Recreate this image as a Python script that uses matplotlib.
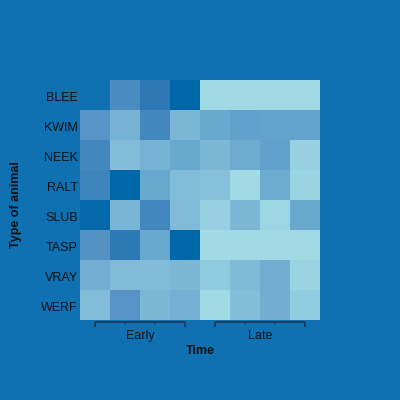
import matplotlib
matplotlib.use("Agg")
import matplotlib.pyplot as plt
import matplotlib.transforms as mtransforms
import numpy as np
from matplotlib.colors import LinearSegmentedColormap

animals = ["BLEE", "KWIM", "NEEK", "RALT", "SLUB", "TASP", "VRAY", "WERF"]
groups = ["Early", "Late"]
times_per_group = 4

blee = [0.08, 0.45, 0.30, 0.00, 1.00, 1.00, 1.00, 1.00]
kwim = [0.52, 0.75, 0.40, 0.80, 0.68, 0.62, 0.64, 0.64]
neek = [0.40, 0.85, 0.75, 0.68, 0.80, 0.70, 0.62, 0.95]
ralt = [0.38, 0.00, 0.68, 0.85, 0.87, 1.00, 0.70, 0.97]
slub = [0.02, 0.78, 0.40, 0.84, 0.95, 0.80, 0.98, 0.68]
tasp = [0.50, 0.28, 0.68, 0.00, 1.00, 1.00, 1.00, 1.00]
vray = [0.73, 0.84, 0.84, 0.80, 0.92, 0.83, 0.72, 0.97]
werf = [0.85, 0.52, 0.80, 0.74, 1.00, 0.86, 0.72, 0.93]

values = np.array([blee, kwim, neek, ralt, slub, tasp, vray, werf])

bg = "#0F70B2"
cmap = LinearSegmentedColormap.from_list(
    "blues", [(0.0, "#0067AA"), (0.08, "#0F70B2"), (0.3, "#2F7AB6"),
              (0.4, "#4288BE"), (0.5, "#5592C4"), (0.65, "#65A5CD"),
              (0.75, "#76B2D4"), (0.85, "#82BCD8"), (0.93, "#92CCE0"),
              (1.0, "#A0DAE5")])

fig = plt.figure(figsize=(4, 4), dpi=100, facecolor=bg)
ax = fig.add_axes([0.2, 0.2, 0.6, 0.6])
ax.set_facecolor(bg)
ax.imshow(values, cmap=cmap, vmin=0, vmax=1, aspect="auto",
          interpolation="nearest")
ax.set_xlim(-0.5, 7.5)
ax.set_ylim(7.5, -0.5)
for s in ax.spines.values():
    s.set_visible(False)

font = "Liberation Sans"
ax.set_yticks(range(len(animals)))
ax.set_yticklabels(animals, fontsize=9, family=font, color="#111111",
                   va="center")
ax.tick_params(axis="y", length=0, pad=1.5)
offset = mtransforms.ScaledTranslation(0, -3 / 100, fig.dpi_scale_trans)
for lbl in ax.get_yticklabels():
    lbl.set_transform(lbl.get_transform() + offset)
ax.set_xticks([])

trans = ax.get_xaxis_transform()
lc = "#1B3A58"
for g, name in enumerate(groups):
    x0 = g * times_per_group
    x1 = x0 + times_per_group - 1
    ax.plot([x0, x1], [-0.01, -0.01], color=lc, lw=1.3, transform=trans,
            clip_on=False, solid_capstyle="butt")
    for k in range(times_per_group):
        xk = x0 + k
        end = -0.03 if k in (0, times_per_group - 1) else -0.018
        ax.plot([xk, xk], [-0.01, end], color=lc, lw=1.3, transform=trans,
                clip_on=False, solid_capstyle="butt")
    ax.text((x0 + x1) / 2, -0.068, name, transform=trans, ha="center",
            va="center", fontsize=9, family=font, color="#111111")

fig.text(0.5, 0.122, "Time", ha="center", va="center", fontsize=9,
         family=font, fontweight="bold", color="#111111")
fig.text(0.041, 0.488, "Type of animal", ha="center", va="center",
         fontsize=9, family=font, fontweight="bold", rotation=90,
         color="#111111")

fig.savefig("out.png", dpi=100, facecolor=bg)
